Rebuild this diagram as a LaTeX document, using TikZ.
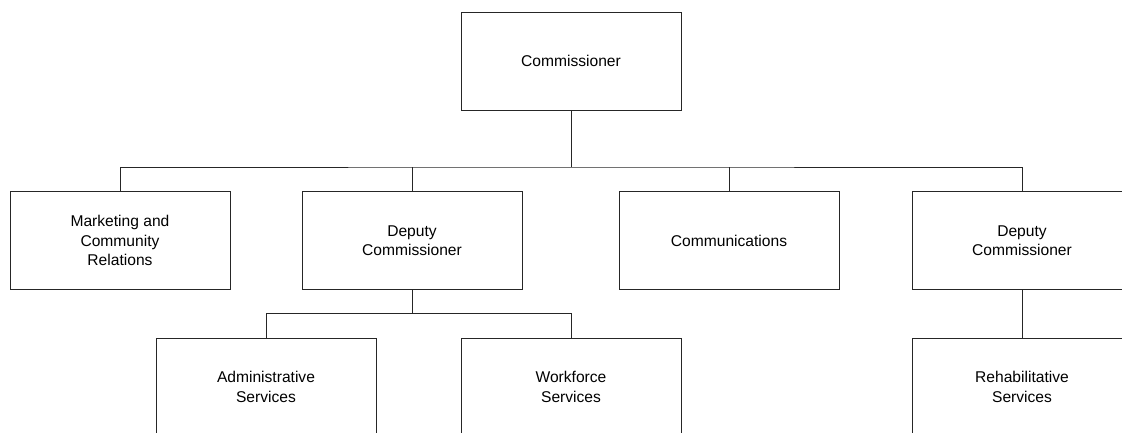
\documentclass[tikz,border=0pt]{standalone}
\usepackage{fontspec}
\setmainfont{Liberation Sans}
\begin{document}
\begin{tikzpicture}[x=1pt,y=-1pt,
  orgbox/.style={draw=black!85, line width=1pt, minimum width=220pt, minimum height=98pt, inner sep=0pt, align=center, font=\fontsize{15.6}{19.3}\selectfont},
  link/.style={draw=black!85, line width=1pt}]
\useasboundingbox (0,0) rectangle (1122,432);
\clip (0,0) rectangle (1122,432);
\node[orgbox] (comm) at (571,61) {Commissioner};
\node[orgbox] (mkt) at (120,240.5) {Marketing and\\Community\\Relations};
\node[orgbox] (dep1) at (412,240.5) {Deputy\\Commissioner};
\node[orgbox] (comms) at (729,240.5) {Communications};
\node[orgbox] (dep2) at (1022,240.5) {Deputy\\Commissioner};
\node[orgbox] (adm) at (266,387) {Administrative\\Services};
\node[orgbox] (wf) at (571,387) {Workforce\\Services};
\node[orgbox] (rehab) at (1022,387) {Rehabilitative\\Services};
\coordinate (bus1) at (571,167);
\coordinate (bus2) at (412,313.5);
\draw[link] (comm.south) -- (bus1);
\draw[link] (mkt.north) |- (bus1) -| (dep2.north);
\draw[link] (dep1.north) -- (dep1.north |- bus1);
\draw[link] (comms.north) -- (comms.north |- bus1);
\draw[link] (dep1.south) -- (bus2);
\draw[link] (adm.north) |- (bus2) -| (wf.north);
\draw[link] (dep2.south) -- (rehab.north);
\end{tikzpicture}
\end{document}
